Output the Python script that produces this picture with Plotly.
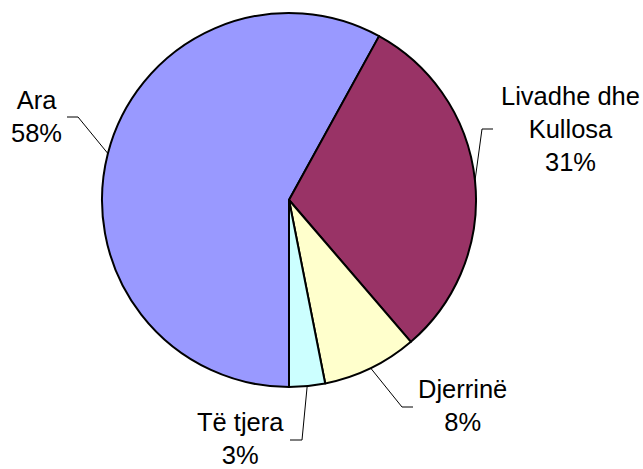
import math
import plotly.graph_objects as go

# ---- data ----
categories = ["Ara", "Livadhe dhe<br>Kullosa", "Djerrinë", "Të tjera"]
values = [58.0, 30.7, 8.2, 3.1]
colors = ["#9999FF", "#993366", "#FFFFCC", "#CCFFFF"]

# ---- layout / styling ----
W, H = 643, 469
CX, CY, R = 289, 200, 187          # pie centre and radius in pixels
ROTATION = 180                     # first slice starts at 6 o'clock, clockwise
FONT = dict(family="Arial, Liberation Sans, sans-serif", size=25.5, color="black")

# label anchor (centre of text block) and leader-line elbow/end, in pixels
label_pos = [(36, 117), (570, 129), (462, 405), (240, 438)]
leader_elbow = [(78, 117), (482, 129), (402, 407), (302, 440)]
leader_end = [(67, 117), (493, 129), (413, 407), (290, 440)]


def px(x):
    return x / W


def py(y):
    return 1 - y / H


fig = go.Figure(
    go.Pie(
        labels=categories,
        values=values,
        sort=False,
        direction="clockwise",
        rotation=ROTATION,
        marker=dict(colors=colors, line=dict(color="black", width=2)),
        textinfo="none",
        hoverinfo="label+percent",
        domain=dict(x=[px(CX - R), px(CX + R)], y=[py(CY + R), py(CY - R)]),
        showlegend=False,
    )
)

total = sum(values)
cum = 0.0
annotations = []
shapes = []
for i, (lab, v) in enumerate(zip(categories, values)):
    mid = ROTATION + (cum + v / 2) / total * 360
    cum += v
    a = math.radians(mid)
    ex, ey = CX + R * math.sin(a), CY - R * math.cos(a)
    bx, by = leader_elbow[i]
    tx, ty = leader_end[i]
    shapes.append(
        dict(
            type="path",
            xref="paper",
            yref="paper",
            path=f"M {px(ex)} {py(ey)} L {px(bx)} {py(by)} L {px(tx)} {py(ty)}",
            line=dict(color="black", width=1),
        )
    )
    pct = round(v / total * 100)
    lx, ly = label_pos[i]
    annotations.append(
        dict(
            x=px(lx),
            y=py(ly),
            xref="paper",
            yref="paper",
            text=f"{lab}<br>{pct}%",
            showarrow=False,
            xanchor="center",
            yanchor="middle",
            align="center",
            font=FONT,
        )
    )

fig.update_layout(
    width=W,
    height=H,
    margin=dict(l=0, r=0, t=0, b=0),
    paper_bgcolor="white",
    plot_bgcolor="white",
    annotations=annotations,
    shapes=shapes,
    font=FONT,
)

fig.write_html(
    "out.html",
    config={"displayModeBar": False},
    post_script="document.body.style.margin='0';document.body.style.overflow='hidden';",
)
